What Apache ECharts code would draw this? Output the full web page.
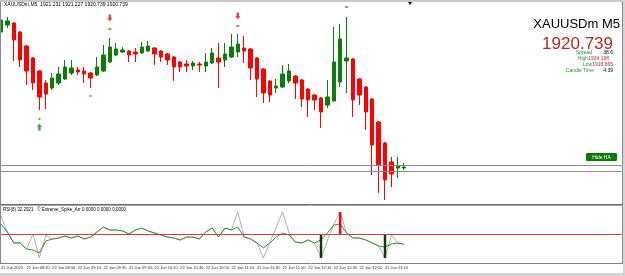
<!DOCTYPE html>
<html><head><meta charset="utf-8">
<script src="https://cdn.jsdelivr.net/npm/echarts@6/dist/echarts.min.js"></script>
<style>html,body{margin:0;padding:0;background:#fff}#c{width:625px;height:276px}</style>
</head><body><div id="c"></div>
<script>
// ---- data ----
const barTimes = ['08:10','08:15','08:20','08:25','08:30','08:35','08:40','08:45','08:50','08:55',
'09:00','09:05','09:10','09:15','09:20','09:25','09:30','09:35','09:40','09:45','09:50','09:55',
'10:00','10:05','10:10','10:15','10:20','10:25','10:30','10:35','10:40','10:45','10:50','10:55',
'11:00','11:05','11:10','11:15','11:20','11:25','11:30','11:35','11:40','11:45','11:50','11:55',
'12:00','12:05','12:10','12:15','12:20','12:25','12:30','12:35','12:40','12:45','12:50','12:55',
'13:00','13:05','13:10','13:15','13:20','13:25'];
const dayPrefix = '22 Jun ';
const firstLabel = '22 Jun 2023';
const opens = [1927.70,1928.05,1928.15,1927.70,1927.00,1926.40,1925.75,1925.15,1924.90,1925.15,
1925.35,1925.65,1925.80,1925.75,1925.65,1925.55,1925.75,1926.20,1926.55,1926.70,
1926.75,1926.70,1926.65,1926.75,1926.90,1926.75,1926.60,1926.45,1926.20,1926.10,
1926.00,1926.10,1926.00,1926.15,1926.40,1926.30,1926.45,1926.70,1926.90,1926.85,
1926.40,1925.85,1925.25,1924.90,1924.95,1925.25,1925.50,1925.30,1924.85,1924.55,
1924.40,1924.05,1924.25,1925.20,1926.25,1926.35,1925.35,1924.95,1924.35,1923.20,
1922.15,1921.20,1920.90,1920.90];
const closes = [1928.30,1928.25,1927.30,1926.30,1925.75,1925.15,1924.45,1924.60,1925.40,1925.60,
1925.95,1925.90,1925.70,1925.60,1925.40,1925.95,1926.55,1926.95,1926.85,1926.80,
1926.55,1926.60,1926.95,1927.00,1926.60,1926.45,1926.30,1925.95,1925.95,1926.00,
1926.15,1926.05,1926.20,1926.65,1926.20,1926.60,1926.95,1927.10,1926.75,1925.90,
1925.35,1924.65,1924.55,1925.00,1925.60,1925.75,1925.15,1924.35,1924.30,1924.30,
1923.70,1924.45,1926.20,1927.35,1926.40,1924.30,1924.55,1923.70,1922.05,1921.05,
1920.30,1920.60,1921.00,1920.95];
const lows = [1927.60,1927.90,1926.25,1925.95,1925.05,1924.80,1923.80,1923.85,1924.80,1925.05,
1925.30,1925.55,1925.55,1925.15,1924.90,1925.50,1925.70,1926.15,1926.50,1926.65,
1926.20,1926.20,1926.60,1926.70,1926.05,1926.20,1926.05,1925.25,1925.70,1925.70,
1925.80,1925.70,1925.70,1926.10,1924.90,1925.95,1926.40,1926.45,1926.15,1925.30,
1924.45,1924.15,1924.20,1924.65,1924.90,1925.15,1924.35,1923.95,1923.45,1923.80,
1922.90,1923.90,1924.20,1924.95,1924.65,1923.45,1924.05,1922.80,1920.55,1919.65,
1919.30,1919.95,1920.40,1920.80];
const highs = [1928.50,1928.45,1928.20,1927.75,1927.05,1926.45,1925.80,1925.30,1925.65,1925.95,
1926.30,1926.30,1925.95,1925.95,1925.70,1926.45,1927.05,1927.40,1927.15,1926.95,
1926.80,1926.90,1927.20,1927.25,1926.95,1926.80,1926.65,1926.50,1926.25,1926.30,
1926.25,1926.20,1926.65,1926.90,1927.15,1927.15,1927.60,1927.60,1927.50,1926.90,
1926.45,1925.90,1925.30,1925.35,1926.05,1926.10,1925.55,1925.35,1924.90,1924.60,
1924.45,1925.30,1927.95,1928.10,1928.45,1926.40,1925.40,1925.00,1924.40,1923.25,
1922.20,1921.45,1921.45,1921.15];
const sellArrows = [[17,1928.40],[37,1928.50]];
const sellDots = [[17,1927.85],[37,1928.00],[54,1928.95]];
const buyArrows = [[6,1922.95]];
const buyDots = [[6,1923.35],[14,1924.50]];
const askPrice = 1921.05, bidPrice = 1920.75;
const rsiValues = [67.2,53.4,34.5,34.5,24.1,22.4,17.2,37.9,41.4,43.1,
46.6,43.1,46.6,41.4,44.8,53.4,62.1,56.9,56.9,55.2,
50.0,56.9,60.3,55.2,51.7,48.3,44.8,43.1,39.7,44.8,
44.8,41.4,53.4,60.3,44.8,60.3,56.9,62.1,44.8,41.4,
34.5,25.9,34.5,44.8,51.7,48.3,36.2,34.5,39.7,34.5,
39.7,51.7,65.5,67.2,51.7,43.1,43.1,39.7,34.5,29.3,
27.6,32.8,34.5,32.3];
const spikeLine = [81.0,53.4,34.5,34.5,24.1,50.0,8.6,48.0,41.4,43.1,
46.6,43.1,46.6,41.4,44.8,53.4,62.1,56.9,56.9,55.2,
50.0,56.9,60.3,55.2,51.7,48.3,44.8,43.1,39.7,44.8,
44.8,41.4,53.4,60.3,44.8,60.3,56.9,87.9,44.8,41.4,
34.5,8.6,35.0,61.6,87.9,51.7,36.2,34.5,39.7,34.5,
8.6,38.0,67.0,87.9,51.7,43.1,43.1,39.7,34.5,29.3,
8.6,48.3,34.5,32.3];
const spikeDownBars = [50,60], spikeDownValues = [8.6,8.6];
const spikeUpBars = [53], spikeUpValues = [87.9];
const rsiLevel = 50;

// ---- build ----
const futureSlots = 34;
const categories = barTimes.concat(new Array(futureSlots).fill(''));
const candleData = opens.map((o,i)=>[o, closes[i], lows[i], highs[i]]);
const histBase = new Array(barTimes.length).fill(null);
const histBody = new Array(barTimes.length).fill(null);
spikeDownBars.forEach((b,k)=>{histBase[b]=spikeDownValues[k]; histBody[b]={value:rsiLevel-spikeDownValues[k], itemStyle:{color:'#0b3d0b'}};});
spikeUpBars.forEach((b,k)=>{histBase[b]=rsiLevel; histBody[b]={value:spikeUpValues[k]-rsiLevel, itemStyle:{color:'#e01010'}};});

const FONT = 'Liberation Sans, Arial, sans-serif';
const chart = echarts.init(document.getElementById('c'), null, {renderer:'canvas'});
const xBase = {type:'category', data:categories, boundaryGap:false,
  axisLine:{show:false}, axisTick:{show:false}, splitLine:{show:false}};
function txt(text,x,y,size,color,align,extra){
  return Object.assign({type:'text', z:100, style:{text:text,x:x,y:y,fill:color,
    font:size+'px '+FONT, textAlign:align||'left', textVerticalAlign:'middle'}}, extra||{});
}
chart.setOption({
  animation:false,
  backgroundColor:'#ffffff',
  grid:[
    {left:1, right:3.2, top:3, height:201, outerBoundsMode:'none', containLabel:false},
    {left:1, right:3.2, top:205, height:58, outerBoundsMode:'none', containLabel:false}
  ],
  xAxis:[
    Object.assign({gridIndex:0, axisLabel:{show:false}}, xBase),
    Object.assign({gridIndex:1, axisLabel:{show:true, interval:3, align:'left', margin:3,
      fontSize:4, fontFamily:FONT, color:'#333',
      formatter:(v,i)=> i===0 ? firstLabel : (v ? dayPrefix+v : '')}}, xBase)
  ],
  yAxis:[
    {gridIndex:0, type:'value', min:1919.10, max:1929.15, show:false, splitLine:{show:false}},
    {gridIndex:1, type:'value', min:0, max:100, show:false, splitLine:{show:false}}
  ],
  series:[
    {type:'candlestick', xAxisIndex:0, yAxisIndex:0, data:candleData, barWidth:4,
      itemStyle:{color:'#0a7d0a', color0:'#ff0000', borderColor:'#0a7d0a', borderColor0:'#ff0000', borderWidth:1},
      markLine:{silent:true, symbol:'none', label:{show:false},
        lineStyle:{color:'#8c8c8c', width:1, type:'solid'},
        data:[{yAxis:askPrice},{yAxis:bidPrice}]}},
    {type:'scatter', xAxisIndex:0, yAxisIndex:0, data:sellArrows,
      symbol:'path://M2,0 H6 V5 H8 L4,10 L0,5 H2 Z', symbolSize:[5,7], itemStyle:{color:'#e8141a'}},
    {type:'scatter', xAxisIndex:0, yAxisIndex:0, data:sellDots,
      symbol:'rect', symbolSize:[3,2], itemStyle:{color:'#e05a5a'}},
    {type:'scatter', xAxisIndex:0, yAxisIndex:0, data:buyArrows,
      symbol:'path://M4,0 L8,5 H6 V10 H2 V5 H0 Z', symbolSize:[5,7], itemStyle:{color:'#1a8a1a'}},
    {type:'scatter', xAxisIndex:0, yAxisIndex:0, data:buyDots,
      symbol:'rect', symbolSize:[2,2], itemStyle:{color:'#3a9a3a'}},
    {type:'line', xAxisIndex:1, yAxisIndex:1, data:spikeLine, symbol:'none', z:2,
      lineStyle:{color:'#9a9a9a', width:0.8}},
    {type:'line', xAxisIndex:1, yAxisIndex:1, data:rsiValues, symbol:'none', z:3,
      lineStyle:{color:'#3b8c3b', width:1},
      markLine:{silent:true, symbol:'none', label:{show:false},
        lineStyle:{color:'#e03a3a', width:1, type:'solid'}, data:[{yAxis:rsiLevel}]}},
    {type:'bar', xAxisIndex:1, yAxisIndex:1, stack:'h', data:histBase, barWidth:2.5,
      itemStyle:{color:'rgba(0,0,0,0)'}, z:4},
    {type:'bar', xAxisIndex:1, yAxisIndex:1, stack:'h', data:histBody, barWidth:2.5, z:4}
  ],
  graphic:[
    {type:'rect', shape:{x:0,y:0,width:625,height:2}, style:{fill:'#c8c8c8'}, z:90},
    {type:'line', shape:{x1:0.5,y1:2,x2:0.5,y2:264}, style:{stroke:'#8a8a8a',lineWidth:1}, z:90},
    {type:'line', shape:{x1:622.5,y1:2,x2:622.5,y2:264}, style:{stroke:'#8a8a8a',lineWidth:1}, z:90},
    {type:'rect', shape:{x:623,y:0,width:2,height:276}, style:{fill:'#d6d6d6'}, z:90},
    {type:'line', shape:{x1:0,y1:204.5,x2:623,y2:204.5}, style:{stroke:'#6e6e6e',lineWidth:1}, z:90},
    {type:'line', shape:{x1:0,y1:205.5,x2:623,y2:205.5}, style:{stroke:'#a8a8a8',lineWidth:1}, z:90},
    {type:'line', shape:{x1:0,y1:263.5,x2:623,y2:263.5}, style:{stroke:'#808080',lineWidth:1}, z:90},
    {type:'rect', shape:{x:0,y:273,width:625,height:3}, style:{fill:'#d4d4d4'}, z:90},
    {type:'polygon', shape:{points:[[408,2],[412,2],[410,5]]}, style:{fill:'#000'}, z:95},
    txt('XAUUSDm,M5  1921.231 1921.227 1920.739 1920.739', 4, 4.5, 5, '#000'),
    txt('RSI(8) 32.2921   \u00A9 Extreme_Spike_Arr 0.0000 0.0000 0.0000', 3, 209.5, 4.5, '#000'),
    txt('XAUUSDm M5', 620, 24, 13, '#000', 'right'),
    txt('1920.739', 613, 44, 17, '#b02c2c', 'right'),
    txt('Spread', 592, 53, 5, '#2e8b2e', 'right'),
    txt('38.6', 613, 53, 5, '#000', 'right'),
    {type:'text', z:100, style:{text:'{g|High}{r|1934.198}', x:609, y:59, textAlign:'right', textVerticalAlign:'middle',
      rich:{g:{fill:'#2e8b2e', font:'5px '+FONT}, r:{fill:'#c02828', font:'5px '+FONT}}}},
    {type:'text', z:100, style:{text:'{g|Low}{r|1918.865}', x:613, y:65, textAlign:'right', textVerticalAlign:'middle',
      rich:{g:{fill:'#2e8b2e', font:'5px '+FONT}, r:{fill:'#c02828', font:'5px '+FONT}}}},
    txt('Candle Time', 594, 71, 5, '#2e8b2e', 'right'),
    txt('4:39', 613, 71, 5, '#000', 'right'),
    {type:'rect', shape:{x:586,y:153,width:31,height:8,r:1}, style:{fill:'#0b7a0b'}, z:95},
    txt('Hide HA', 601.5, 157.3, 5, '#ffffff', 'center')
  ]
});
</script></body></html>
